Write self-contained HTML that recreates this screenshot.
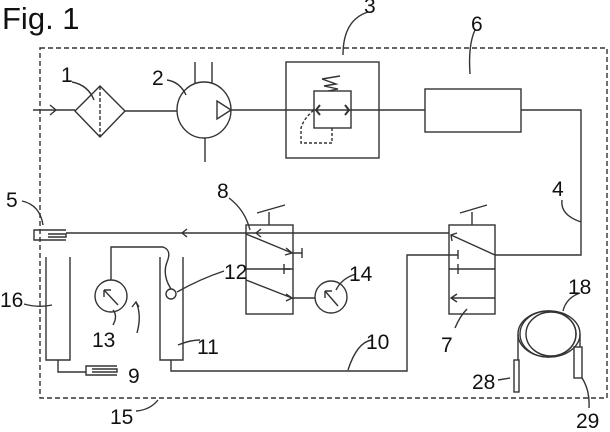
<!DOCTYPE html>
<html><head><style>
body{margin:0;background:#fff;}
svg{display:block;}
text{font-family:"Liberation Sans",sans-serif;fill:#111;}
</style></head><body>
<svg width="610" height="432" viewBox="0 0 610 432" xmlns="http://www.w3.org/2000/svg">
<g stroke="#333" stroke-width="1.4" fill="none">
<rect x="40" y="48" width="567" height="350" stroke-dasharray="5,3"/>
<line x1="33" y1="110" x2="75" y2="110"/>
<path d="M50 105 L56 110 L50 115"/>
<path d="M75 111 L100 86 L125 111 L100 137 Z"/>
<line x1="100" y1="86" x2="100" y2="137" stroke-dasharray="4,2"/>
<line x1="125" y1="111" x2="177" y2="111"/>
<ellipse cx="204" cy="110" rx="27" ry="28"/>
<path d="M217 101 L231 110 L217 119 Z"/>
<line x1="195" y1="62" x2="195" y2="83"/>
<line x1="212" y1="62" x2="212" y2="83"/>
<line x1="205" y1="138" x2="205" y2="162"/>
<line x1="231" y1="110" x2="425" y2="110"/>
<rect x="286" y="62" width="93" height="96"/>
<rect x="314" y="91" width="37" height="37"/>
<path d="M320 105 L316 110 L320 115 M345 105 L349 110 L345 115" stroke-width="2"/>
<path d="M332 128 L332 143 L301 143 L301 128 Q304 118 314 110" stroke-dasharray="3,2"/>
<path d="M322 79 L340 76 M322 79 L336 84 L324 86 L338 89 L328 91"/>
<rect x="425" y="89" width="96" height="43"/>
<path d="M521 110 L581 110 L581 255 L495 255"/>
<rect x="246" y="225" width="47" height="89"/>
<line x1="246" y1="269" x2="293" y2="269"/>
<path d="M269 225 L269 212 M257 213 L285 205"/>
<path d="M246 234 L292 253 M286 248 L292 253 L285 255"/>
<path d="M292 253 L302 253 M302 248 L302 258"/>
<path d="M284 264 L284 274 M284 269 L290 269"/>
<path d="M246 280 L292 298 M286 294 L292 298 L286 301"/>
<line x1="292" y1="298" x2="315" y2="298"/>
<rect x="449" y="225" width="46" height="89"/>
<line x1="449" y1="269" x2="495" y2="269"/>
<path d="M472 225 L472 212 M460 213 L487 205"/>
<path d="M495 255 L451 235 M452 241 L451 235 L457 233"/>
<path d="M458 250 L458 259 M458 255 L449 255"/>
<path d="M458 264 L458 274"/>
<path d="M495 298 L451 298 M457 294 L451 298 L457 302"/>
<line x1="66" y1="233" x2="449" y2="233"/>
<path d="M187 229 L182 233 L187 237 M261 229 L256 233 L261 237"/>
<path d="M66 230 L34 230 L34 240 L66 240 M48 234 L66 234 L66 237 L48 237"/>
<path d="M449 255 L407 255 L407 371 L171 371 L171 360"/>
<path d="M46 257 L46 360 L70 360 L70 257"/>
<path d="M160 257 L160 360 L183 360 L183 257"/>
<path d="M58 360 L58 372 L86 372"/>
<path d="M117 366 L86 366 L86 375 L117 375 M92 369 L117 369 L117 372 L92 372"/>
<circle cx="111" cy="296" r="16"/>
<path d="M118 305 L104 290 M104 290 L104 297 M104 290 L111 290"/>
<path d="M111 280 L111 247 L163 247 Q172 250 167 262 Q162 275 171 289"/>
<circle cx="171" cy="294" r="5"/>
<path d="M137 333 Q142 315 136 302 M132 307 L136 302 L139 307"/>
<circle cx="331" cy="297" r="16"/>
<path d="M338 306 L325 291 M325 291 L325 298 M325 291 L332 291"/>
<ellipse cx="549" cy="334" rx="31" ry="23"/>
<ellipse cx="548" cy="334" rx="28" ry="23"/>
<ellipse cx="551" cy="334" rx="25" ry="22"/>
<path d="M518 334 L518 360"/>
<rect x="514" y="360" width="5" height="32"/>
<rect x="574" y="347" width="8" height="31"/>
<path d="M580 334 L580 347"/>
<path d="M72 82 Q88 85 94 100"/>
<path d="M167 80 Q180 82 186 95"/>
<path d="M368 12 Q343 20 343 55"/>
<path d="M475 30 Q468 45 470 74"/>
<path d="M562 200 Q560 215 581 222"/>
<path d="M22 201 Q40 205 43 225"/>
<path d="M229 198 Q245 210 250 230"/>
<path d="M24 304 Q38 308 52 305"/>
<path d="M113 325 Q118 316 113 310"/>
<path d="M200 340 Q190 340 178 345"/>
<path d="M224 271 Q200 279 177 292"/>
<path d="M372 340 Q357 342 348 370"/>
<path d="M356 274 Q342 278 336 290"/>
<path d="M455 328 Q460 316 467 309"/>
<path d="M580 293 Q566 298 563 311"/>
<path d="M498 380 L510 378"/>
<path d="M589 408 Q590 390 582 378"/>
<path d="M136 411 Q150 410 158 400"/>
</g>
<g font-size="21">
<text x="2" y="29" font-size="31">Fig. 1</text>
<text x="61" y="82">1</text>
<text x="152" y="85">2</text>
<text x="364" y="13">3</text>
<text x="471" y="31">6</text>
<text x="552" y="196">4</text>
<text x="6" y="207">5</text>
<text x="217" y="198">8</text>
<text x="0" y="307">16</text>
<text x="92" y="347">13</text>
<text x="128" y="383">9</text>
<text x="197" y="354">11</text>
<text x="224" y="279">12</text>
<text x="366" y="349">10</text>
<text x="349" y="281">14</text>
<text x="441" y="352">7</text>
<text x="568" y="294">18</text>
<text x="472" y="389">28</text>
<text x="576" y="428">29</text>
<text x="110" y="424">15</text>
</g>
</svg>
</body></html>
